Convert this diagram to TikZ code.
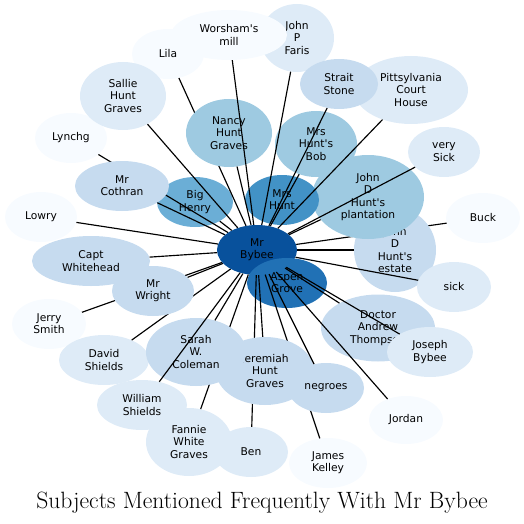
\documentclass[tikz,border=0pt]{standalone}
\usepackage{fontspec}
\newfontfamily\nodefont{DejaVu Sans}
\usetikzlibrary{shapes.geometric}
\definecolor{cA}{HTML}{08519C}
\definecolor{cB}{HTML}{2171B5}
\definecolor{cC}{HTML}{4292C6}
\definecolor{cD}{HTML}{6BAED6}
\definecolor{cE}{HTML}{9ECAE1}
\definecolor{cF}{HTML}{C6DBEF}
\definecolor{cG}{HTML}{DEEBF7}
\definecolor{cH}{HTML}{F7FBFF}
\begin{document}
\begin{tikzpicture}[x=1pt,y=-1pt,
  nd/.style={ellipse, inner sep=0pt, align=center, text=black,
    font=\nodefont\fontsize{10.7}{12.3}\selectfont},
  sz/.style 2 args={minimum width=#1pt, minimum height=#2pt},
  link/.style={draw=black, line width=1.15pt}]
\useasboundingbox (0,0) rectangle (524,524);
% ---- phase A nodes
\node[nd, fill=cH, sz={72}{50}] (lowry) at (41,217) {Lowry};
\node[nd, fill=cH, sz={72}{50}] (lila) at (168,54) {Lila};
\node[nd, fill=cH, sz={72}{50}] (lynchg) at (71,138) {Lynchg};
\node[nd, fill=cG, sz={114}{68}] (pitts) at (411,90) {Pittsylvania\\Court\\House};
\node[nd, fill=cG, sz={74}{68}] (faris) at (297,38) {John\\P\\Faris};
\node[nd, fill=cH, sz={116}{50}] (worsham) at (229,35) {Worsham's\\mill};
\node[nd, fill=cF, sz={78}{50}] (strait) at (339,84) {Strait\\Stone};
\node[nd, fill=cG, sz={86}{68}] (sallie) at (123,96) {Sallie\\Hunt\\Graves};
\node[nd, fill=cG, sz={72}{50}] (verysick) at (444,152) {very\\Sick};
\node[nd, fill=cH, sz={74}{50}] (buck) at (483,218) {Buck};
\node[nd, fill=cF, sz={118}{50}] (capt) at (91,261) {Capt\\Whitehead};
\node[nd, fill=cH, sz={74}{50}] (jerry) at (49,324) {Jerry\\Smith};
\node[nd, fill=cG, sz={90}{50}] (david) at (104,360) {David\\Shields};
\node[nd, fill=cG, sz={90}{50}] (william) at (142,405) {William\\Shields};
\node[nd, fill=cG, sz={86}{68}] (fannie) at (189,442) {Fannie\\White\\Graves};
\node[nd, fill=cG, sz={74}{50}] (ben) at (251,452) {Ben};
\node[nd, fill=cH, sz={78}{50}] (james) at (328,463) {James\\Kelley};
\node[nd, fill=cH, sz={74}{48}] (jordan) at (406,420) {Jordan};
\node[nd, fill=cF, sz={114}{67}] (doctor) at (378,328) {Doctor\\Andrew\\Thompson};
\node[nd, fill=cG, sz={86}{50}] (joseph) at (430,352) {Joseph\\Bybee};
\node[nd, fill=cD, sz={76}{50}] (bighenry) at (195,202) {Big\\Henry};
\node[nd, fill=cE, sz={82}{66}] (bob) at (316,144) {Mrs\\Hunt's\\Bob};
\node[nd, fill=cA, sz={80}{50}] (bybee) at (257,250) {Mr\\Bybee};
\node[nd, fill=cB, sz={80}{50}] (aspen) at (287,283) {Aspen\\Grove};
% ---- edges hidden below later nodes
\draw[link] (lila) -- (bybee);
\draw[link] (lynchg) -- (bybee);
\draw[link] (jerry) -- (bybee);
\draw[link] (david) -- (bybee);
\draw[link] (fannie) -- (bybee);
\draw[link] (ben) -- (bybee);
\draw[link] (james) -- (bybee);
\draw[link] (buck) -- (bybee);
% ---- phase B nodes
\node[nd, fill=cF, sz={82}{84}] (estate) at (395,250) {John\\D\\Hunt's\\estate};
\node[nd, fill=cE, sz={112}{84}] (plantation) at (368,197) {John\\D\\Hunt's\\plantation};
\node[nd, fill=cG, sz={74}{50}] (sick) at (454,287) {sick};
\node[nd, fill=cC, sz={74}{50}] (mrshunt) at (282,200) {Mrs\\Hunt};
\node[nd, fill=cE, sz={86}{68}] (nancy) at (229,133) {Nancy\\Hunt\\Graves};
\node[nd, fill=cF, sz={94}{50}] (cothran) at (122,186) {Mr\\Cothran};
\node[nd, fill=cF, sz={82}{50}] (wright) at (153,291) {Mr\\Wright};
\node[nd, fill=cF, sz={98}{68}] (jeremiah) at (265,371) {Jeremiah\\Hunt\\Graves};
\node[nd, fill=cF, sz={100}{68}] (sarah) at (196,352) {Sarah\\W.\\Coleman};
\node[nd, fill=cF, sz={76}{50}] (negroes) at (326,388) {negroes};
% ---- edges on top
\draw[link] (worsham) -- (bybee);
\draw[link] (sallie) -- (bybee);
\draw[link] (faris) -- (bybee);
\draw[link] (strait) -- (bybee);
\draw[link] (pitts) -- (bybee);
\draw[link] (verysick) -- (bybee);
\draw[link] (bob) -- (bybee);
\draw[link] (plantation) -- (bybee);
\draw[link] (nancy) -- (bybee);
\draw[link] (bighenry) -- (bybee);
\draw[link] (cothran) -- (bybee);
\draw[link] (lowry) -- (bybee);
\draw[link] (capt) -- (bybee);
\draw[link] (wright) -- (bybee);
\draw[link] (william) -- (bybee);
\draw[link] (sarah) -- (bybee);
\draw[link] (jeremiah) -- (bybee);
\draw[link] (negroes) -- (bybee);
\draw[link] (jordan) -- (bybee);
\draw[link] (doctor) -- (bybee);
\draw[link] (joseph) -- (bybee);
\draw[link] (sick) -- (bybee);
\draw[link] (estate) -- (bybee);
% ---- title
\node[anchor=base, inner sep=0pt, font=\fontsize{23.6}{28}\selectfont] (title) at (262,508) {Subjects Mentioned Frequently With Mr Bybee};
\end{tikzpicture}
\end{document}
